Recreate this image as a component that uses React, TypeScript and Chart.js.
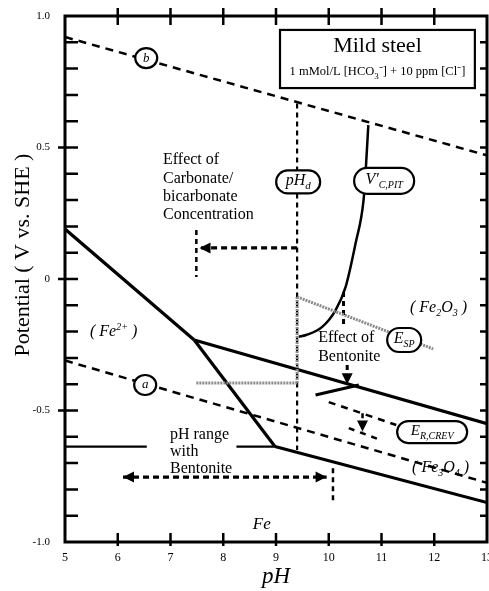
import React, { useEffect, useRef } from 'react';
import { Chart, registerables } from 'chart.js';
Chart.register(...registerables);

const SERIF = "'Liberation Serif', 'Times New Roman', serif";

// ---- axes ----
const xMin = 5;
const xMax = 13;
const yMin = -1.0;
const yMax = 1.0;
const yMinorStep = 0.1;

// ---- water stability lines (dashed) ----
const lineB_pH = [5, 13];
const lineB_E = [0.92, 0.47];
const lineA_pH = [5, 13];
const lineA_E = [-0.31, -0.775];

// ---- Pourbaix boundaries (solid) ----
const fe2Fe2o3_pH = [5, 7.45];
const fe2Fe2o3_E = [0.19, -0.232];
const fe3o4Fe2o3_pH = [7.45, 13];
const fe3o4Fe2o3_E = [-0.232, -0.55];
const fe2Fe3o4_pH = [7.45, 8.98];
const fe2Fe3o4_E = [-0.232, -0.637];
const feFe3o4_pH = [8.98, 13];
const feFe3o4_E = [-0.637, -0.85];
const feFe2Left_pH = [5, 6.55];
const feFe2Left_E = [-0.637, -0.637];
const feFe2Right_pH = [8.25, 8.98];
const feFe2Right_E = [-0.637, -0.637];

// ---- pH_d (dashed vertical) ----
const pHd_pH = [9.4, 9.4];
const pHd_E = [0.667, -0.65];

// ---- V'C,PIT curve ----
const vcpit_pH = [9.43, 9.57, 9.87, 10.13, 10.32, 10.51, 10.66, 10.7, 10.75];
const vcpit_E = [-0.22, -0.213, -0.183, -0.118, -0.03, 0.137, 0.3, 0.41, 0.585];

// ---- E_SP (grey) ----
const esp_pH = [9.4, 11.98];
const esp_E = [-0.068, -0.266];
const espVert_pH = [9.4, 9.4];
const espVert_E = [-0.068, -0.395];
const espHorz_pH = [7.49, 9.4];
const espHorz_E = [-0.395, -0.395];

// ---- effect of carbonate arrow ----
const carbArrow_pH = [9.4, 7.55];
const carbArrow_E = [0.118, 0.118];
const carbBar_pH = [7.49, 7.49];
const carbBar_E = [0.186, 0.008];

// ---- effect of bentonite ----
const bentTop_pH = [10.28, 10.28];
const bentTop_E = [-0.049, -0.186];
const bentArrow_pH = [10.35, 10.35];
const bentArrow_E = [-0.327, -0.4];
const shifted_pH = [9.75, 10.57];
const shifted_E = [-0.441, -0.403];

// ---- E_R,CREV ----
const ercrev_pH = [10.0, 11.28];
const ercrev_E = [-0.468, -0.555];
const crevArrow_pH = [10.64, 10.64];
const crevArrow_E = [-0.51, -0.58];
const crevShift_pH = [10.38, 10.98];
const crevShift_E = [-0.567, -0.612];

// ---- pH range with bentonite ----
const rangeArrow_pH = [6.1, 9.96];
const rangeArrow_E = [-0.753, -0.753];
const rangeBar_pH = [10.08, 10.08];
const rangeBar_E = [-0.72, -0.85];

const pts = (xs: number[], ys: number[]) => xs.map((x, i) => ({ x, y: ys[i] }));

type Part = { t: string; size: number; italic?: boolean; sub?: boolean; sup?: boolean };

function drawRich(ctx: CanvasRenderingContext2D, x: number, y: number, parts: Part[], align: 'left' | 'center') {
  const font = (p: Part) => `${p.italic ? 'italic ' : ''}${p.size}px ${SERIF}`;
  let total = 0;
  for (const p of parts) {
    ctx.font = font(p);
    total += ctx.measureText(p.t).width;
  }
  let cx = align === 'center' ? x - total / 2 : x;
  ctx.textBaseline = 'middle';
  ctx.textAlign = 'left';
  for (const p of parts) {
    ctx.font = font(p);
    const dy = p.sub ? 5 : p.sup ? -5 : 0;
    ctx.fillText(p.t, cx, y + dy);
    cx += ctx.measureText(p.t).width;
  }
}

const framePlugin = {
  id: 'frameTicks',
  afterDraw(chart: any) {
    const { ctx, chartArea, scales } = chart;
    const { left, right, top, bottom } = chartArea;
    const xs = scales.x;
    const ys = scales.y;
    ctx.save();
    ctx.strokeStyle = '#000';
    ctx.lineWidth = 3;
    ctx.strokeRect(left, top, right - left, bottom - top);
    ctx.lineWidth = 2.5;
    ctx.beginPath();
    for (let v = xMin + 1; v < xMax; v++) {
      const px = xs.getPixelForValue(v);
      ctx.moveTo(px, top - 8);
      ctx.lineTo(px, top + 9);
      ctx.moveTo(px, bottom - 9);
      ctx.lineTo(px, bottom + 4);
    }
    const n = Math.round((yMax - yMin) / yMinorStep);
    for (let i = 1; i < n; i++) {
      const v = yMin + i * yMinorStep;
      const py = ys.getPixelForValue(v);
      const major = i % 5 === 0;
      ctx.moveTo(major ? left - 7 : left, py);
      ctx.lineTo(left + 13, py);
      ctx.moveTo(right - 7, py);
      ctx.lineTo(right, py);
    }
    ctx.stroke();

    // y axis title
    ctx.fillStyle = '#000';
    ctx.save();
    ctx.translate(23, 255);
    ctx.rotate(-Math.PI / 2);
    ctx.font = `22px ${SERIF}`;
    ctx.textAlign = 'center';
    ctx.textBaseline = 'middle';
    ctx.fillText('Potential ( V vs. SHE )', 0, 0);
    ctx.restore();
    ctx.restore();
  },
};

const annotationPlugin = {
  id: 'annotations',
  afterDatasetsDraw(chart: any) {
    const { ctx, scales } = chart;
    const X = (v: number) => scales.x.getPixelForValue(v);
    const Y = (v: number) => scales.y.getPixelForValue(v);
    ctx.save();
    ctx.fillStyle = '#000';
    ctx.strokeStyle = '#000';

    // arrowheads
    const head = (a: any, b: any) => {
      const x1 = X(a.x), y1 = Y(a.y), x2 = X(b.x), y2 = Y(b.y);
      const ang = Math.atan2(y2 - y1, x2 - x1);
      const L = 11, W = 5.5;
      ctx.beginPath();
      ctx.moveTo(x2, y2);
      ctx.lineTo(x2 - L * Math.cos(ang) + W * Math.sin(ang), y2 - L * Math.sin(ang) - W * Math.cos(ang));
      ctx.lineTo(x2 - L * Math.cos(ang) - W * Math.sin(ang), y2 - L * Math.sin(ang) + W * Math.cos(ang));
      ctx.closePath();
      ctx.fill();
    };
    for (const ds of chart.data.datasets) {
      const d = ds.data;
      if (ds.arrowEnd) head(d[d.length - 2], d[d.length - 1]);
      if (ds.arrowStart) head(d[1], d[0]);
    }

    const ellipse = (cx: number, cy: number, label: string) => {
      const px = X(cx), py = Y(cy);
      ctx.beginPath();
      ctx.ellipse(px, py, 11, 10, 0, 0, Math.PI * 2);
      ctx.fillStyle = '#fff';
      ctx.fill();
      ctx.lineWidth = 2.2;
      ctx.strokeStyle = '#000';
      ctx.stroke();
      ctx.fillStyle = '#000';
      drawRich(ctx, px, py, [{ t: label, size: 13, italic: true }], 'center');
    };
    ellipse(6.54, 0.84, 'b');
    ellipse(6.52, -0.403, 'a');

    const pill = (cx: number, cy: number, w: number, h: number, parts: Part[]) => {
      const px = X(cx), py = Y(cy);
      ctx.beginPath();
      ctx.roundRect(px - w / 2, py - h / 2, w, h, h / 2);
      ctx.fillStyle = '#fff';
      ctx.fill();
      ctx.lineWidth = 2.2;
      ctx.strokeStyle = '#000';
      ctx.stroke();
      ctx.fillStyle = '#000';
      drawRich(ctx, px, py - 1, parts, 'center');
    };
    pill(9.42, 0.369, 44, 23, [
      { t: 'pH', size: 16, italic: true },
      { t: 'd', size: 11, italic: true, sub: true },
    ]);
    pill(11.05, 0.373, 60, 26, [
      { t: 'V\u2032', size: 16, italic: true },
      { t: 'C,PIT', size: 10, italic: true, sub: true },
    ]);
    pill(11.43, -0.232, 34, 24, [
      { t: 'E', size: 16, italic: true },
      { t: 'SP', size: 10, italic: true, sub: true },
    ]);
    pill(11.96, -0.582, 70, 22, [
      { t: 'E', size: 15, italic: true },
      { t: 'R,CREV', size: 10, italic: true, sub: true },
    ]);

    // title box
    const bx1 = X(9.076), by1 = Y(0.947), bx2 = X(12.77), by2 = Y(0.726);
    ctx.fillStyle = '#fff';
    ctx.fillRect(bx1, by1, bx2 - bx1, by2 - by1);
    ctx.lineWidth = 2.2;
    ctx.strokeRect(bx1, by1, bx2 - bx1, by2 - by1);
    ctx.fillStyle = '#000';
    drawRich(ctx, (bx1 + bx2) / 2, Y(0.886), [{ t: 'Mild steel', size: 22 }], 'center');
    drawRich(ctx, (bx1 + bx2) / 2, Y(0.787), [
      { t: '1 mMol/L [HCO', size: 12.5 },
      { t: '3', size: 9, sub: true },
      { t: '\u207B', size: 12.5 },
      { t: '] + 10 ppm [Cl', size: 12.5 },
      { t: '\u207B', size: 12.5 },
      { t: ']', size: 12.5 },
    ], 'center');

    // free text
    const lines = (x0: number, ys: number[], texts: string[]) => {
      texts.forEach((t, i) => drawRich(ctx, X(x0), Y(ys[i]), [{ t, size: 16 }], 'left'));
    };
    lines(6.858, [0.452, 0.38, 0.312, 0.243], ['Effect of', 'Carbonate/', 'bicarbonate', 'Concentration']);
    lines(9.8, [-0.224, -0.297], ['Effect of', 'Bentonite']);
    lines(6.99, [-0.593, -0.658, -0.722], ['pH range', 'with', 'Bentonite']);

    drawRich(ctx, X(5.474), Y(-0.2015), [
      { t: '( Fe', size: 16, italic: true },
      { t: '2+', size: 10, italic: true, sup: true },
      { t: ' )', size: 16, italic: true },
    ], 'left');
    drawRich(ctx, X(11.54), Y(-0.11), [
      { t: '( Fe', size: 16, italic: true },
      { t: '2', size: 10, italic: true, sub: true },
      { t: 'O', size: 16, italic: true },
      { t: '3', size: 10, italic: true, sub: true },
      { t: ' )', size: 16, italic: true },
    ], 'left');
    drawRich(ctx, X(11.58), Y(-0.719), [
      { t: '( Fe', size: 16, italic: true },
      { t: '3', size: 10, italic: true, sub: true },
      { t: 'O', size: 16, italic: true },
      { t: '4', size: 10, italic: true, sub: true },
      { t: ' )', size: 16, italic: true },
    ], 'left');
    drawRich(ctx, X(8.56), Y(-0.935), [{ t: 'Fe', size: 17, italic: true }], 'left');

    ctx.restore();
  },
};

export default function App() {
  const canvasRef = useRef<HTMLCanvasElement | null>(null);

  useEffect(() => {
    if (!canvasRef.current) return;
    const solid = (xs: number[], ys: number[], w = 3) => ({
      data: pts(xs, ys), showLine: true, borderColor: '#000', borderWidth: w,
      pointRadius: 0, fill: false,
    });
    const dashed = (xs: number[], ys: number[], dash: number[], w = 2.5, extra: any = {}) => ({
      data: pts(xs, ys), showLine: true, borderColor: '#000', borderWidth: w,
      borderDash: dash, pointRadius: 0, fill: false, ...extra,
    });
    const grey = (xs: number[], ys: number[]) => ({
      data: pts(xs, ys), showLine: true, borderColor: '#8a8a8a', borderWidth: 3,
      borderDash: [2, 1], pointRadius: 0, fill: false,
    });

    const datasets: any[] = [
      grey(esp_pH, esp_E),
      grey(espVert_pH, espVert_E),
      grey(espHorz_pH, espHorz_E),
      dashed(lineB_pH, lineB_E, [8, 6], 2.5),
      dashed(lineA_pH, lineA_E, [8, 6], 2.5),
      solid(fe2Fe2o3_pH, fe2Fe2o3_E, 3.2),
      solid(fe3o4Fe2o3_pH, fe3o4Fe2o3_E, 3.2),
      solid(fe2Fe3o4_pH, fe2Fe3o4_E, 3.2),
      solid(feFe3o4_pH, feFe3o4_E, 3.2),
      solid(feFe2Left_pH, feFe2Left_E, 2.2),
      solid(feFe2Right_pH, feFe2Right_E, 2.2),
      dashed(pHd_pH, pHd_E, [5, 4], 2.2),
      { ...solid(vcpit_pH, vcpit_E, 2.5), tension: 0.4, cubicInterpolationMode: 'monotone' },
      dashed(carbArrow_pH, carbArrow_E, [6, 4], 3.2, { arrowEnd: true }),
      dashed(carbBar_pH, carbBar_E, [5, 4], 2.5),
      dashed(bentTop_pH, bentTop_E, [5, 4], 3),
      dashed(bentArrow_pH, bentArrow_E, [5, 4], 3, { arrowEnd: true }),
      solid(shifted_pH, shifted_E, 3.2),
      dashed(ercrev_pH, ercrev_E, [7, 6], 2.5),
      dashed(crevArrow_pH, crevArrow_E, [5, 4], 2.5, { arrowEnd: true }),
      dashed(crevShift_pH, crevShift_E, [6, 6], 2.5),
      dashed(rangeArrow_pH, rangeArrow_E, [6, 4], 3.2, { arrowEnd: true, arrowStart: true }),
      dashed(rangeBar_pH, rangeBar_E, [5, 4], 2.5),
    ];

    const chart = new Chart(canvasRef.current, {
      type: 'scatter',
      data: { datasets },
      options: {
        responsive: false,
        animation: false,
        layout: { padding: { top: 16, right: 2, left: 0, bottom: 0 } },
        plugins: { legend: { display: false }, tooltip: { enabled: false } },
        scales: {
          x: {
            type: 'linear',
            min: xMin,
            max: xMax,
            grid: { display: false, drawTicks: false },
            border: { display: false },
            ticks: { stepSize: 1, padding: 9, color: '#000', font: { family: SERIF, size: 12 } },
            title: {
              display: true, text: 'pH', color: '#000', padding: { top: 0, bottom: 0 },
              font: { family: SERIF, size: 23, style: 'italic' },
            },
            afterFit: (s: any) => {
              s.height = 49;
              s.paddingLeft = 0;
              s.paddingRight = 0;
            },
          },
          y: {
            type: 'linear',
            min: yMin,
            max: yMax,
            grid: { display: false, drawTicks: false },
            border: { display: false },
            ticks: {
              stepSize: 0.5, padding: 15, color: '#000', font: { family: SERIF, size: 11 },
              callback: (v: any) => (Math.abs(v) < 1e-9 ? '0' : Number(v).toFixed(1)),
            },
            afterFit: (s: any) => {
              s.width = 65;
              s.paddingTop = 0;
              s.paddingBottom = 0;
            },
          },
        },
      },
      plugins: [framePlugin, annotationPlugin],
    } as any);
    return () => chart.destroy();
  }, []);

  return (
    <div style={{ position: 'fixed', left: 0, top: 0, width: 489, height: 591, background: '#fff' }}>
      <canvas ref={canvasRef} width={489} height={591} />
    </div>
  );
}
